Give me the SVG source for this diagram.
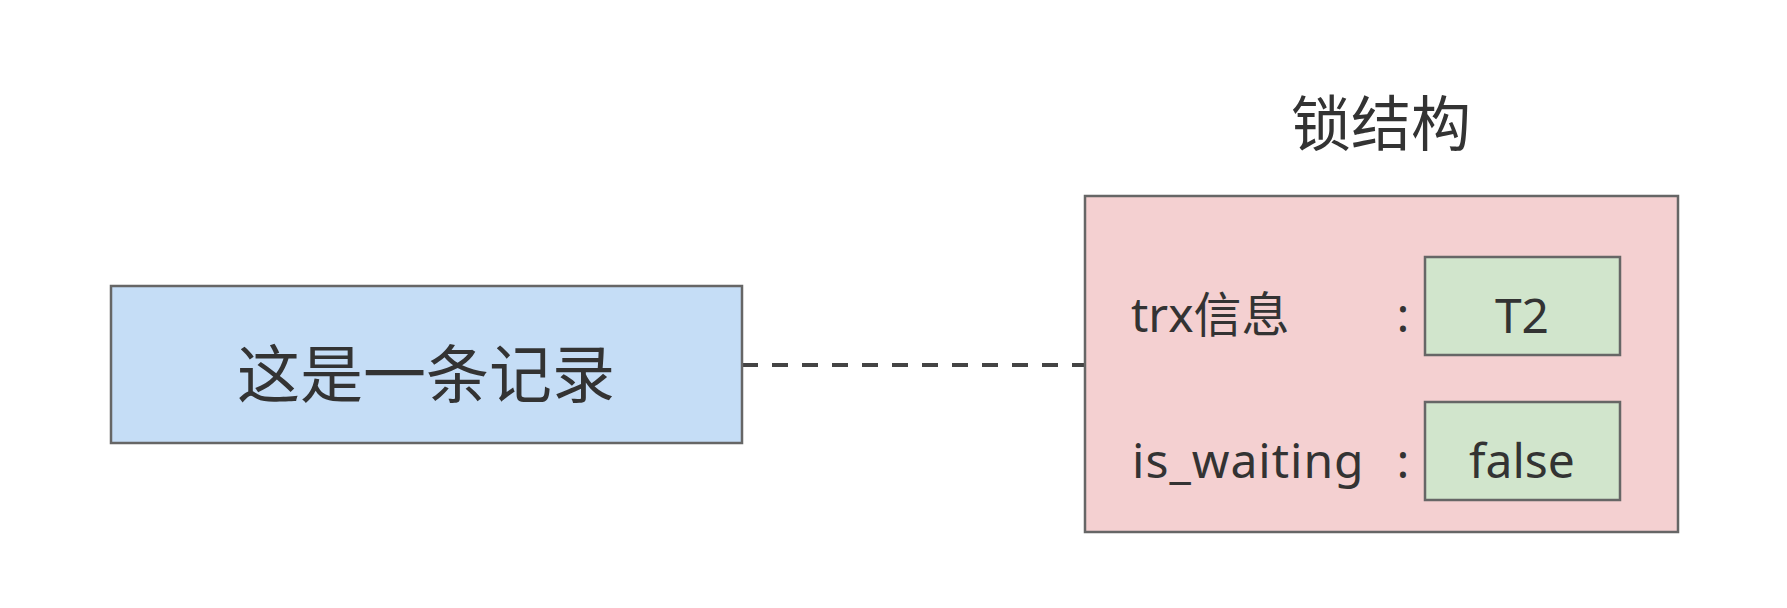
<svg xmlns="http://www.w3.org/2000/svg" width="1787" height="608" viewBox="0 0 1787 608">
<style>
.box{stroke:#666;stroke-width:2.5}
.t{font-family:"Noto Sans","Noto Sans CJK SC",sans-serif;fill:#333}
.c{text-anchor:middle}
.f{font-size:48px}
</style>
<rect width="1787" height="608" fill="#fff"/>
<g id="connectors">
<line x1="742" y1="365" x2="1085" y2="365" stroke="#444" stroke-width="4" stroke-dasharray="16,14"/>
</g>
<g id="record">
<rect class="box" x="111" y="286" width="631" height="157" fill="#c5ddf6"/>
<text class="t c" x="426" y="397" font-size="63">这是一条记录</text>
</g>
<g id="lock">
<text class="t c" x="1381" y="146" font-size="60">锁结构</text>
<rect class="box" x="1085" y="196" width="593" height="336" fill="#f4d0d1"/>
<text class="t f" x="1131" y="332">trx信息</text>
<text class="t f" x="1132" y="478" letter-spacing="1">is_waiting</text>
<text class="t c f" x="1403" y="332">:</text>
<text class="t c f" x="1403" y="478">:</text>
</g>
<g id="trx">
<rect class="box" x="1425" y="257" width="195" height="98" fill="#d1e5cc"/>
<text class="t c f" x="1522" y="333">T2</text>
</g>
<g id="waiting">
<rect class="box" x="1425" y="402" width="195" height="98" fill="#d1e5cc"/>
<text class="t c f" x="1522" y="478">false</text>
</g>
</svg>
